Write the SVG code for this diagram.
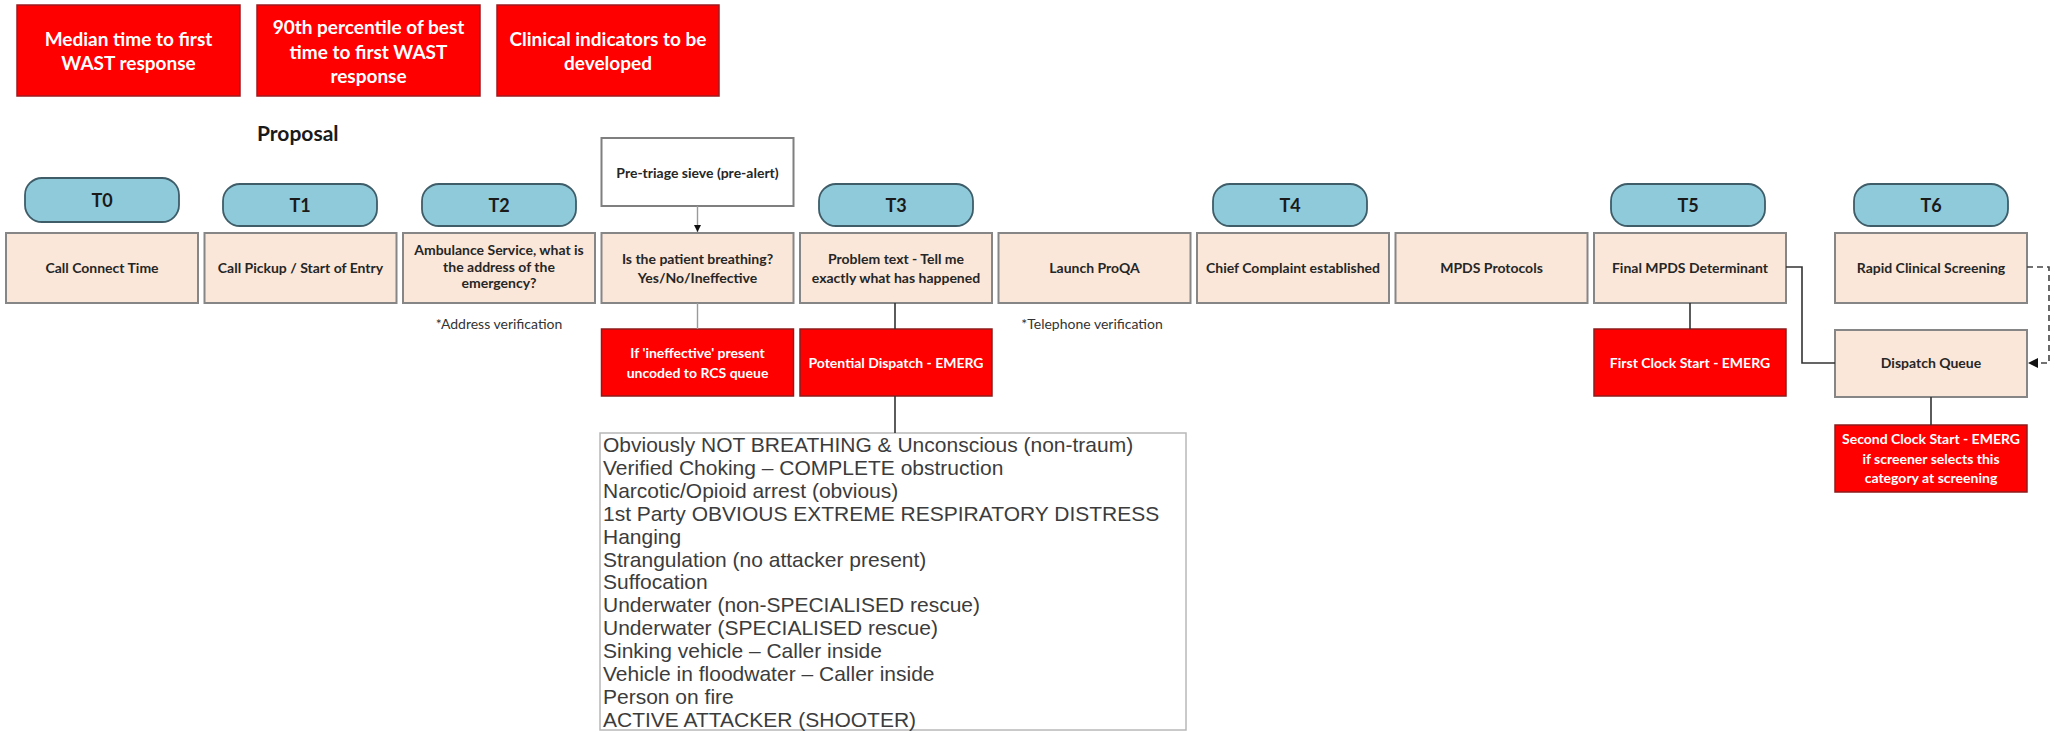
<svg xmlns="http://www.w3.org/2000/svg" width="2055" height="732" viewBox="0 0 2055 732">
  <style>
    .kpi { fill: #ff0000; stroke: #9c1a1f; stroke-width: 1.5; }
    .kpi-t { font-family: Lato, "Open Sans", sans-serif; font-weight: 700; font-size: 19px; fill: #ffffff; text-anchor: middle; }
    .pill { fill: #8fcadb; stroke: #3e5d69; stroke-width: 1.8; }
    .pill-t { font-family: Lato, "Open Sans", sans-serif; font-weight: 700; font-size: 18px; fill: #1a1a1a; text-anchor: middle; }
    .step { fill: #fbe7d9; stroke: #868686; stroke-width: 2; }
    .step-t { font-family: Lato, "Open Sans", sans-serif; font-weight: 700; font-size: 14px; fill: #262626; text-anchor: middle; }
    .sieve { fill: #ffffff; stroke: #7f7f7f; stroke-width: 2; }
    .alert { fill: #ff0000; stroke: #8e1b1b; stroke-width: 1.5; }
    .alert-t { font-family: Lato, "Open Sans", sans-serif; font-weight: 700; font-size: 14px; fill: #ffffff; text-anchor: middle; }
    .note { font-family: Lato, "Open Sans", sans-serif; font-size: 14px; fill: #333333; text-anchor: middle; }
    .title { font-family: Lato, "Open Sans", sans-serif; font-weight: 700; font-size: 21px; fill: #1a1a1a; }
    .list { fill: #ffffff; stroke: #b8b8b8; stroke-width: 1.5; }
    .list-t { font-family: "Liberation Sans", Arial, sans-serif; font-size: 21px; fill: #3c3c3c; }
    .wire { fill: none; stroke: #333333; stroke-width: 1.6; }
    .wire-light { fill: none; stroke: #9a9a9a; stroke-width: 1.4; }
    .wire-dash { fill: none; stroke: #444444; stroke-width: 1.6; stroke-dasharray: 6 4; }
  </style>
  <defs>
    <marker id="arrow" viewBox="0 0 10 10" refX="10" refY="5" markerWidth="7" markerHeight="7" orient="auto" markerUnits="userSpaceOnUse">
      <path d="M0,0 L10,5 L0,10 z" fill="#111111"/>
    </marker>
    <marker id="arrow-lg" viewBox="0 0 10 10" refX="10" refY="5" markerWidth="10" markerHeight="10" orient="auto" markerUnits="userSpaceOnUse">
      <path d="M0,0 L10,5 L0,10 z" fill="#111111"/>
    </marker>
  </defs>

  <rect width="2055" height="732" fill="#ffffff"/>

  <!-- headline measures -->
  <g id="kpi-median">
    <rect class="kpi" x="17" y="5" width="223" height="91"/>
    <text class="kpi-t" x="128.5" y="46">Median time to first</text>
    <text class="kpi-t" x="128.5" y="70">WAST response</text>
  </g>
  <g id="kpi-90th">
    <rect class="kpi" x="257" y="5" width="223" height="91"/>
    <text class="kpi-t" x="368.5" y="34">90th percentile of best</text>
    <text class="kpi-t" x="368.5" y="58.5">time to first WAST</text>
    <text class="kpi-t" x="368.5" y="83">response</text>
  </g>
  <g id="kpi-clinical">
    <rect class="kpi" x="497" y="5" width="222" height="91"/>
    <text class="kpi-t" x="608" y="46">Clinical indicators to be</text>
    <text class="kpi-t" x="608" y="70">developed</text>
  </g>

  <text id="proposal" class="title" x="257" y="141">Proposal</text>

  <!-- time points -->
  <g id="t0"><rect class="pill" x="25" y="178" width="154" height="44" rx="17"/><text class="pill-t" x="102" y="206.5">T0</text></g>
  <g id="t1"><rect class="pill" x="223" y="184" width="154" height="42" rx="17"/><text class="pill-t" x="300" y="211.5">T1</text></g>
  <g id="t2"><rect class="pill" x="422" y="184" width="154" height="42" rx="17"/><text class="pill-t" x="499" y="211.5">T2</text></g>
  <g id="t3"><rect class="pill" x="819" y="184" width="154" height="42" rx="17"/><text class="pill-t" x="896" y="211.5">T3</text></g>
  <g id="t4"><rect class="pill" x="1213" y="184" width="154" height="42" rx="17"/><text class="pill-t" x="1290" y="211.5">T4</text></g>
  <g id="t5"><rect class="pill" x="1611" y="184" width="154" height="42" rx="17"/><text class="pill-t" x="1688" y="211.5">T5</text></g>
  <g id="t6"><rect class="pill" x="1854" y="184" width="154" height="42" rx="17"/><text class="pill-t" x="1931" y="211.5">T6</text></g>

  <!-- pre-triage -->
  <g id="pre-triage">
    <rect class="sieve" x="601.5" y="138" width="192" height="68"/>
    <text class="step-t" x="697.5" y="178">Pre-triage sieve (pre-alert)</text>
  </g>

  <!-- call steps -->
  <g id="call-connect">
    <rect class="step" x="6" y="233" width="192" height="70"/>
    <text class="step-t" x="102" y="273">Call Connect Time</text>
  </g>
  <g id="call-pickup">
    <rect class="step" x="204.5" y="233" width="192" height="70"/>
    <text class="step-t" x="300.5" y="273">Call Pickup / Start of Entry</text>
  </g>
  <g id="address">
    <rect class="step" x="403" y="233" width="192" height="70"/>
    <text class="step-t" x="499" y="255">Ambulance Service, what is</text>
    <text class="step-t" x="499" y="271.5">the address of the</text>
    <text class="step-t" x="499" y="288">emergency?</text>
  </g>
  <g id="breathing">
    <rect class="step" x="601.5" y="233" width="192" height="70"/>
    <text class="step-t" x="697.5" y="264">Is the patient breathing?</text>
    <text class="step-t" x="697.5" y="282.5">Yes/No/Ineffective</text>
  </g>
  <g id="problem-text">
    <rect class="step" x="800" y="233" width="192" height="70"/>
    <text class="step-t" x="896" y="264">Problem text - Tell me</text>
    <text class="step-t" x="896" y="282.5">exactly what has happened</text>
  </g>
  <g id="launch-proqa">
    <rect class="step" x="998.5" y="233" width="192" height="70"/>
    <text class="step-t" x="1094.5" y="273">Launch ProQA</text>
  </g>
  <g id="chief-complaint">
    <rect class="step" x="1197" y="233" width="192" height="70"/>
    <text class="step-t" x="1293" y="273">Chief Complaint established</text>
  </g>
  <g id="mpds-protocols">
    <rect class="step" x="1395.5" y="233" width="192" height="70"/>
    <text class="step-t" x="1491.5" y="273">MPDS Protocols</text>
  </g>
  <g id="final-mpds">
    <rect class="step" x="1594" y="233" width="192" height="70"/>
    <text class="step-t" x="1690" y="273">Final MPDS Determinant</text>
  </g>
  <g id="rapid-screening">
    <rect class="step" x="1835" y="233" width="192" height="70"/>
    <text class="step-t" x="1931" y="273">Rapid Clinical Screening</text>
  </g>

  <!-- verification notes -->
  <text id="note-address" class="note" x="499" y="328.5">*Address verification</text>
  <text id="note-telephone" class="note" x="1092" y="328.5">*Telephone verification</text>

  <!-- outcomes -->
  <g id="ineffective">
    <rect class="alert" x="601.5" y="329" width="192" height="67"/>
    <text class="alert-t" x="697.5" y="358">If 'ineffective' present</text>
    <text class="alert-t" x="697.5" y="378">uncoded to RCS queue</text>
  </g>
  <g id="potential-dispatch">
    <rect class="alert" x="800" y="329" width="192" height="67"/>
    <text class="alert-t" x="896" y="367.5">Potential Dispatch - EMERG</text>
  </g>
  <g id="first-clock">
    <rect class="alert" x="1594" y="329" width="192" height="67"/>
    <text class="alert-t" x="1690" y="367.5">First Clock Start - EMERG</text>
  </g>
  <g id="dispatch-queue">
    <rect class="step" x="1835" y="330" width="192" height="67"/>
    <text class="step-t" x="1931" y="368">Dispatch Queue</text>
  </g>
  <g id="second-clock">
    <rect class="alert" x="1835" y="425" width="192" height="67"/>
    <text class="alert-t" x="1931" y="444">Second Clock Start - EMERG</text>
    <text class="alert-t" x="1931" y="464">if screener selects this</text>
    <text class="alert-t" x="1931" y="483">category at screening</text>
  </g>

  <!-- qualifying conditions -->
  <g id="conditions">
    <rect class="list" x="600" y="433" width="586" height="297"/>
    <text class="list-t" x="603" y="452">Obviously NOT BREATHING &amp; Unconscious (non-traum)</text>
    <text class="list-t" x="603" y="474.9">Verified Choking – COMPLETE obstruction</text>
    <text class="list-t" x="603" y="497.8">Narcotic/Opioid arrest (obvious)</text>
    <text class="list-t" x="603" y="520.7">1st Party OBVIOUS EXTREME RESPIRATORY DISTRESS</text>
    <text class="list-t" x="603" y="543.6">Hanging</text>
    <text class="list-t" x="603" y="566.5">Strangulation (no attacker present)</text>
    <text class="list-t" x="603" y="589.4">Suffocation</text>
    <text class="list-t" x="603" y="612.3">Underwater (non-SPECIALISED rescue)</text>
    <text class="list-t" x="603" y="635.2">Underwater (SPECIALISED rescue)</text>
    <text class="list-t" x="603" y="658.1">Sinking vehicle – Caller inside</text>
    <text class="list-t" x="603" y="681">Vehicle in floodwater – Caller inside</text>
    <text class="list-t" x="603" y="703.9">Person on fire</text>
    <text class="list-t" x="603" y="726.8">ACTIVE ATTACKER (SHOOTER)</text>
  </g>

  <!-- connectors -->
  <g id="connectors">
    <path class="wire-light" d="M697.5,206 L697.5,232" marker-end="url(#arrow)"/>
    <path class="wire-light" d="M697.5,303 L697.5,329"/>
    <path class="wire" d="M895,303 L895,329"/>
    <path class="wire" d="M895,396 L895,433"/>
    <path class="wire" d="M1690,303 L1690,329"/>
    <path class="wire" d="M1786,267 L1802,267 L1802,363 L1835,363"/>
    <path class="wire-dash" d="M2027,267 L2049,267 L2049,363 L2028,363" marker-end="url(#arrow-lg)"/>
    <path class="wire" d="M1931,397 L1931,425"/>
  </g>
</svg>
